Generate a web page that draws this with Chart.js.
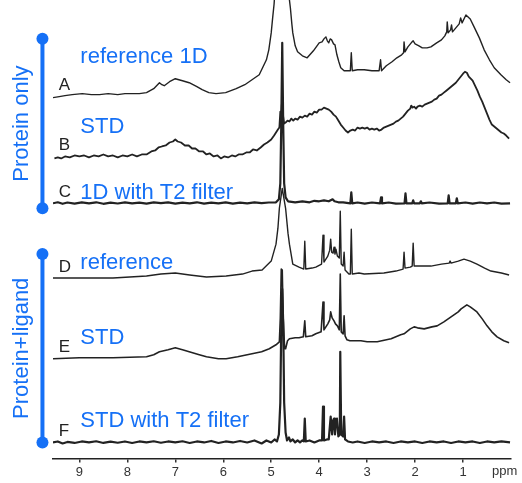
<!DOCTYPE html>
<html>
<head>
<meta charset="utf-8">
<script src="https://cdn.jsdelivr.net/npm/chart.js@4.4.1/dist/chart.umd.min.js"></script>
<style>
    html, body { margin: 0; padding: 0; background: #fff; }
    canvas { display: block; }
</style>
</head>
<body>
<canvas id="nmrChart" width="522" height="483"></canvas>
<script>
// spectra as [ppm, intensity] pairs, intensity measured from each trace's own baseline
const specA = [[9.55,-2],[9.42,-1],[9.3,0],[9.15,1],[8.94,2],[8.75,1],[8.58,1],[8.4,2],[8.2,1],[8.05,2],[7.9,2],[7.75,2],[7.6,3],[7.45,7],[7.33,13],[7.28,11],[7.23,10],[7.12,14],[7.0,17],[6.85,15],[6.71,13],[6.55,9],[6.44,6],[6.3,3],[6.15,2],[5.95,3],[5.73,7],[5.55,11],[5.4,16],[5.25,21],[5.1,36],[5.05,46],[5.0,63],[4.97,78],[4.94,92],[4.9,120],[4.8,260],[4.77,300],[4.74,260],[4.66,120],[4.62,96],[4.6,88],[4.57,72],[4.55,63],[4.5,50],[4.45,44],[4.35,40],[4.25,38],[4.12,45],[4.0,53],[3.94,54],[3.9,57],[3.86,59],[3.83,55],[3.8,53],[3.77,57],[3.74,56],[3.7,52],[3.67,51],[3.63,41],[3.59,34],[3.55,28],[3.48,25],[3.4,25],[3.35,25],[3.33,43],[3.31,25],[3.2,26],[3.06,26],[2.9,25],[2.75,25],[2.72,36],[2.7,25],[2.6,30],[2.48,34],[2.38,38],[2.28,41],[2.24,43],[2.23,54],[2.21,44],[2.15,49],[2.08,53],[2.04,55],[2.0,52],[1.92,50],[1.85,48],[1.75,48],[1.67,49],[1.55,53],[1.45,56],[1.38,60],[1.34,64],[1.33,74],[1.31,63],[1.26,66],[1.24,71],[1.22,64],[1.15,68],[1.08,72],[1.05,78],[1.02,73],[0.94,81],[0.85,77],[0.77,69],[0.66,58],[0.56,46],[0.45,36],[0.35,28],[0.21,21],[0.1,16],[0.02,13]];
const specB = [[9.52,-2],[9.45,-1],[9.38,-2],[9.3,0],[9.2,-1],[9.1,1],[9.0,0],[8.9,1],[8.8,-1],[8.7,1],[8.6,0],[8.5,2],[8.4,0],[8.3,1],[8.2,-1],[8.1,1],[8.0,0],[7.9,2],[7.8,0],[7.7,2],[7.6,2],[7.5,5],[7.42,6],[7.35,9],[7.28,10],[7.2,11],[7.12,14],[7.05,15],[7.0,17],[6.95,15],[6.88,14],[6.8,11],[6.72,11],[6.65,8],[6.58,8],[6.5,5],[6.42,5],[6.35,2],[6.28,3],[6.2,0],[6.12,1],[6.05,-2],[5.98,0],[5.9,-1],[5.82,1],[5.75,0],[5.68,2],[5.6,2],[5.52,4],[5.45,4],[5.38,7],[5.3,6],[5.22,9],[5.15,12],[5.08,14],[5.0,17],[4.94,21],[4.9,24],[4.86,27],[4.83,29],[4.81,45],[4.8,30],[4.78,52],[4.77,25],[4.75,40],[4.73,33],[4.7,34],[4.66,36],[4.62,35],[4.58,38],[4.54,36],[4.5,38],[4.45,37],[4.4,40],[4.35,39],[4.3,41],[4.25,40],[4.2,43],[4.15,42],[4.1,45],[4.05,44],[4.0,47],[3.95,47],[3.9,49],[3.85,48],[3.8,47],[3.75,45],[3.7,42],[3.65,40],[3.6,36],[3.55,32],[3.5,29],[3.45,26],[3.4,24],[3.35,26],[3.3,27],[3.25,26],[3.2,29],[3.15,28],[3.1,29],[3.05,28],[3.0,29],[2.95,27],[2.9,28],[2.85,27],[2.8,28],[2.75,26],[2.7,27],[2.65,29],[2.6,30],[2.55,31],[2.5,32],[2.45,33],[2.4,35],[2.35,36],[2.3,38],[2.25,40],[2.2,43],[2.15,46],[2.1,48],[2.08,51],[2.05,49],[2.02,50],[1.98,48],[1.95,50],[1.9,51],[1.85,50],[1.8,52],[1.75,53],[1.7,54],[1.65,55],[1.6,57],[1.55,58],[1.5,61],[1.45,62],[1.4,64],[1.35,66],[1.3,68],[1.25,70],[1.2,72],[1.15,74],[1.1,77],[1.05,80],[1.0,83],[0.96,85],[0.92,84],[0.88,80],[0.84,78],[0.8,76],[0.75,71],[0.7,66],[0.65,60],[0.6,55],[0.55,49],[0.5,43],[0.45,37],[0.4,32],[0.35,30],[0.3,28],[0.25,26],[0.2,24],[0.15,23],[0.1,21],[0.04,18]];
const specC = [[9.55,0],[9.45,1],[9.35,-0.5],[9.25,0.8],[9.1,-0.3],[8.95,0.9],[8.8,0],[8.65,1],[8.5,-0.5],[8.35,0.6],[8.2,-0.2],[8.05,1],[7.9,0],[7.75,0.7],[7.6,-0.4],[7.45,0.9],[7.3,0.1],[7.15,1],[7.0,-0.3],[6.85,0.7],[6.7,0],[6.55,1],[6.4,-0.4],[6.25,0.6],[6.1,0],[5.95,0.9],[5.8,-0.3],[5.65,0.7],[5.5,0],[5.35,1],[5.2,0.2],[5.05,0.8],[4.9,1],[4.84,4],[4.81,20],[4.79,80],[4.77,161],[4.75,80],[4.73,20],[4.7,6],[4.65,2],[4.5,1],[4.35,2],[4.2,1],[4.1,2.5],[4.0,2],[3.9,3],[3.8,2],[3.72,4],[3.68,2],[3.6,1],[3.5,1],[3.35,0],[3.33,11],[3.31,0],[3.2,0.8],[3.05,-0.3],[2.9,0.8],[2.73,0],[2.71,6],[2.69,0],[2.55,0.8],[2.4,-0.3],[2.22,0],[2.2,10],[2.18,0],[2.06,0],[2.04,3],[2.02,0],[1.9,0],[1.88,2],[1.86,0],[1.7,0.8],[1.5,-0.3],[1.32,0],[1.3,8],[1.28,0],[1.15,0],[1.13,5],[1.11,0],[0.95,0.8],[0.8,-0.3],[0.65,0.8],[0.5,0],[0.35,0.8],[0.2,-0.3],[0.02,0]];
const specD = [[9.55,0],[9.0,0],[8.3,0],[7.6,2],[7.3,4],[7.0,5],[6.7,3],[6.35,1],[5.94,2],[5.6,4],[5.4,7],[5.19,8],[5.0,17],[4.9,34],[4.86,50],[4.83,70],[4.77,90],[4.7,70],[4.65,45],[4.62,34],[4.55,14],[4.42,11],[4.32,9],[4.3,37],[4.28,9],[4.15,10],[4.07,11],[3.95,14],[3.92,43],[3.9,16],[3.82,22],[3.78,28],[3.76,39],[3.74,26],[3.71,25],[3.69,31],[3.67,24],[3.65,29],[3.62,22],[3.58,20],[3.56,67],[3.54,14],[3.5,12],[3.48,26],[3.46,8],[3.42,6],[3.38,4],[3.35,4],[3.33,49],[3.31,4],[3.17,5],[3.06,4],[2.65,5],[2.4,7],[2.25,9],[2.23,26],[2.21,10],[2.1,11],[2.06,12],[2.04,35],[2.02,12],[1.96,12],[1.67,12],[1.45,14],[1.29,15],[1.27,17],[1.25,15],[1.1,17],[0.98,19],[0.85,17],[0.71,14],[0.55,10],[0.42,7],[0.2,5],[0.04,3]];
const specE = [[9.55,-1],[9.0,0],[8.3,0],[7.6,1],[7.45,3],[7.33,6],[7.15,8],[7.0,10],[6.85,8],[6.71,6],[6.5,3],[6.35,1],[6.1,-1],[5.94,-1],[5.7,1],[5.4,4],[5.2,6],[5.04,9],[4.9,13],[4.83,16],[4.81,40],[4.79,89],[4.77,88],[4.75,40],[4.72,9],[4.7,9],[4.66,17],[4.62,19],[4.5,20],[4.42,20],[4.33,21],[4.3,37],[4.28,21],[4.15,22],[4.07,24],[3.96,26],[3.92,56],[3.9,28],[3.82,34],[3.78,38],[3.76,46],[3.73,40],[3.69,37],[3.66,34],[3.62,32],[3.58,28],[3.56,84],[3.54,26],[3.5,24],[3.48,42],[3.46,22],[3.42,18],[3.36,17],[3.25,17],[3.13,17],[3.0,16],[2.79,16],[2.5,19],[2.3,23],[2.23,24],[2.1,29],[2.02,31],[1.95,30],[1.81,29],[1.65,31],[1.54,32],[1.4,36],[1.25,41],[1.1,46],[1.04,49],[0.92,53],[0.85,51],[0.71,46],[0.6,39],[0.5,32],[0.4,26],[0.29,21],[0.15,17],[0.04,15]];
const specF = [[9.55,0],[9.45,1],[9.35,-1],[9.25,0.5],[9.1,-0.5],[8.95,1],[8.8,0],[8.65,1.2],[8.5,-0.5],[8.35,0.8],[8.2,-0.3],[8.05,1],[7.9,-0.5],[7.75,1],[7.6,0],[7.45,1.2],[7.3,-0.3],[7.15,1],[7.0,0],[6.85,1.2],[6.7,-0.5],[6.55,1],[6.4,0],[6.25,1.5],[6.1,-0.5],[5.95,1],[5.8,0],[5.65,1.5],[5.5,0],[5.35,2],[5.2,-1],[5.1,2],[5.0,0],[4.93,3],[4.88,1],[4.84,8],[4.81,40],[4.79,120],[4.77,154],[4.75,120],[4.73,40],[4.7,10],[4.67,2],[4.63,5],[4.6,1],[4.55,3],[4.5,0],[4.45,2],[4.4,0],[4.35,2],[4.32,1],[4.3,24],[4.28,1],[4.2,2],[4.1,0],[4.0,2],[3.94,2],[3.92,36],[3.9,2],[3.84,3],[3.8,3],[3.76,26],[3.73,8],[3.71,22],[3.69,24],[3.67,8],[3.65,22],[3.63,24],[3.6,6],[3.57,8],[3.56,91],[3.54,8],[3.5,6],[3.48,26],[3.46,3],[3.4,1],[3.3,0],[3.2,1],[3.05,-0.5],[2.9,1],[2.75,0],[2.6,1],[2.45,-0.5],[2.3,1],[2.15,0],[2.0,1],[1.85,-0.5],[1.7,1],[1.55,0],[1.4,1],[1.25,-0.5],[1.1,1],[0.95,0],[0.8,1],[0.65,-0.5],[0.5,1],[0.35,0],[0.2,1],[0.02,0]];

// stacking: vertical offset of each trace, letter and caption
const traceLetters = ['A', 'B', 'C', 'D', 'E', 'F'];
const traceNames = ['reference 1D', 'STD', '1D with T2 filter', 'reference', 'STD', 'STD with T2 filter'];
const traceOffsets = [364, 303, 256, 181, 101, 16];
const traceWidths = [1.4, 1.8, 2.2, 1.4, 1.6, 2.2];
const ppmTicks = [9, 8, 7, 6, 5, 4, 3, 2, 1];

// sample groups drawn as blue brackets on the left
const groupNames = ['Protein only', 'Protein+ligand'];
const groupRanges = [[251, 421], [16, 205]];

const blue = '#1570f6';
const ink = '#222222';

document.addEventListener("DOMContentLoaded", function () {

    var allSpectra = [specA, specB, specC, specD, specE, specF];

    var datasets = allSpectra.map(function (spec, i) {
        return {
            label: traceLetters[i],
            data: spec.map(p => ({ x: p[0], y: p[1] + traceOffsets[i] })),
            borderColor: ink,
            borderWidth: traceWidths[i],
            borderJoinStyle: 'round',
            pointRadius: 0,
            tension: 0,
            fill: false
        };
    });

    // letters, captions, brackets and the ppm unit
    var labelsPlugin = {
        id: 'nmrLabels',
        afterDraw: function (chart) {
            var ctx = chart.ctx;
            var xs = chart.scales.x, ys = chart.scales.y;
            ctx.save();

            ctx.textBaseline = 'alphabetic';
            ctx.textAlign = 'left';
            traceLetters.forEach(function (t, i) {
                ctx.fillStyle = ink;
                ctx.font = '17px "Liberation Sans", Arial, sans-serif';
                ctx.fillText(t, xs.getPixelForValue(9.43), ys.getPixelForValue(traceOffsets[i] + 6));
                ctx.fillStyle = blue;
                ctx.font = '22px "Liberation Sans", Arial, sans-serif';
                var gap = [33, 24, 4, 9, 14, 16][i];
                ctx.fillText(traceNames[i], xs.getPixelForValue(8.98), ys.getPixelForValue(traceOffsets[i] + gap));
            });

            groupRanges.forEach(function (r, i) {
                var x = xs.getPixelForValue(9.77);
                var yTop = ys.getPixelForValue(r[1]);
                var yBot = ys.getPixelForValue(r[0]);
                ctx.strokeStyle = blue;
                ctx.fillStyle = blue;
                ctx.lineWidth = 4;
                ctx.beginPath();
                ctx.moveTo(x, yTop);
                ctx.lineTo(x, yBot);
                ctx.stroke();
                [yTop, yBot].forEach(function (y) {
                    ctx.beginPath();
                    ctx.arc(x, y, 6, 0, Math.PI * 2);
                    ctx.fill();
                });

                ctx.save();
                ctx.translate(xs.getPixelForValue(10.2), (yTop + yBot) / 2);
                ctx.rotate(-Math.PI / 2);
                ctx.textAlign = 'center';
                ctx.textBaseline = 'middle';
                ctx.font = '22px "Liberation Sans", Arial, sans-serif';
                ctx.fillText(groupNames[i], 0, 0);
                ctx.restore();
            });

            ctx.fillStyle = '#333';
            ctx.font = '13px "Liberation Sans", Arial, sans-serif';
            ctx.textBaseline = 'middle';
            ctx.fillText('ppm', chart.chartArea.right - 19, chart.chartArea.bottom + 13);
            ctx.restore();
        }
    };

    new Chart(document.getElementById('nmrChart').getContext('2d'), {
        type: 'line',
        data: { datasets: datasets },
        options: {
            responsive: false,
            animation: false,
            devicePixelRatio: 1,
            layout: { padding: { left: 53, right: 11, top: 0, bottom: 1 } },
            plugins: { legend: { display: false }, tooltip: { enabled: false } },
            scales: {
                x: {
                    type: 'linear',
                    reverse: true,
                    min: 0,
                    max: 9.55,
                    afterBuildTicks: function (axis) {
                        axis.ticks = ppmTicks.map(v => ({ value: v }));
                    },
                    ticks: {
                        color: '#333',
                        font: { family: '"Liberation Sans", Arial, sans-serif', size: 13 },
                        padding: 2,
                        maxRotation: 0
                    },
                    grid: { drawOnChartArea: false, drawTicks: true, tickLength: 4, color: '#333', lineWidth: 1.5 },
                    border: { display: true, color: '#222', width: 1.5 }
                },
                y: { display: false, min: 0, max: 460 }
            }
        },
        plugins: [labelsPlugin]
    });
});
</script>
</body>
</html>
